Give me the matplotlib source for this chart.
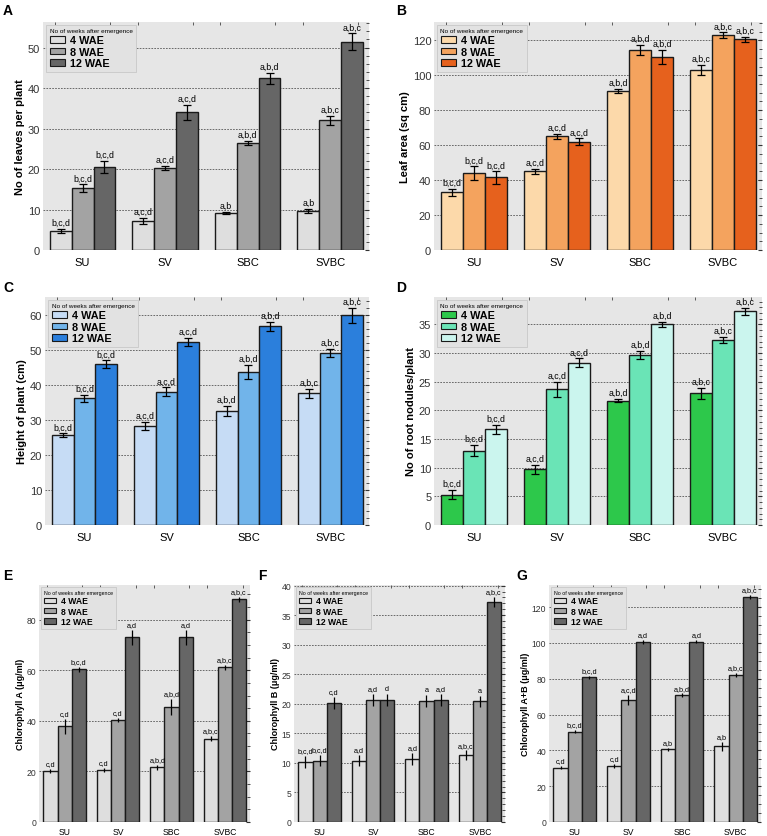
import numpy as np
import matplotlib
matplotlib.use("Agg")
import matplotlib.pyplot as plt
from matplotlib.ticker import MultipleLocator, AutoMinorLocator

plt.rcParams["font.family"] = ["Liberation Sans", "DejaVu Sans"]

treatments = ["SU", "SV", "SBC", "SVBC"]
weeks = ["4 WAE", "8 WAE", "12 WAE"]

# A - number of leaves per plant (rows = weeks, cols = treatments)
leaves_mean = [[4.7, 7.2, 9.1, 9.7],
               [15.3, 20.3, 26.4, 32.0],
               [20.5, 34.0, 42.4, 51.4]]
leaves_err = [[0.5, 0.7, 0.3, 0.5],
              [0.9, 0.5, 0.5, 1.2],
              [1.6, 1.8, 1.3, 2.1]]
leaves_sig = [["b,c,d", "a,c,d", "a,b", "a,b"],
              ["b,c,d", "a,c,d", "a,b,d", "a,b,c"],
              ["b,c,d", "a,c,d", "a,b,d", "a,b,c"]]

# B - leaf area
area_mean = [[33.0, 45.0, 91.0, 103.0],
             [44.0, 65.0, 114.5, 123.0],
             [41.5, 62.0, 110.5, 120.5]]
area_err = [[2.0, 1.5, 1.2, 3.0],
            [4.0, 1.5, 3.0, 1.5],
            [3.5, 2.0, 4.0, 1.7]]
area_sig = [["b,c,d", "a,c,d", "a,b,d", "a,b,c"]] * 3

# C - plant height
height_mean = [[25.6, 28.3, 32.6, 37.5],
               [36.2, 38.0, 43.6, 49.0],
               [45.9, 52.2, 56.6, 59.8]]
height_err = [[0.5, 1.2, 1.4, 1.3],
              [1.0, 1.3, 2.0, 1.2],
              [1.0, 1.1, 1.3, 2.2]]
height_sig = [["b,c,d", "a,c,d", "a,b,d", "a,b,c"]] * 3

# D - root nodules per plant
nodule_mean = [[5.3, 9.7, 21.7, 23.0],
               [13.0, 23.7, 29.7, 32.3],
               [16.7, 28.3, 35.0, 37.3]]
nodule_err = [[0.8, 0.8, 0.3, 1.0],
              [1.0, 1.3, 0.7, 0.5],
              [0.8, 0.8, 0.5, 0.6]]
nodule_sig = [["b,c,d", "a,c,d", "a,b,d", "a,b,c"]] * 3

# E - chlorophyll A
chla_mean = [[20.0, 20.5, 21.6, 33.0],
             [37.9, 40.5, 45.5, 61.2],
             [60.3, 73.0, 73.0, 88.1]]
chla_err = [[0.8, 0.8, 1.0, 1.0],
            [3.0, 0.8, 3.2, 1.0],
            [1.0, 3.1, 3.0, 1.0]]
chla_sig = [["c,d", "c,d", "a,b,d", "a,b,c"],
            ["c,d", "c,d", "a,b,d", "a,b,c"],
            ["b,c,d", "a,d", "a,d", "a,b,c"]]

# F - chlorophyll B
chlb_mean = [[10.2, 10.4, 10.6, 11.3],
             [10.4, 20.6, 20.5, 20.4],
             [20.2, 20.6, 20.7, 37.2]]
chlb_err = [[1.0, 1.0, 1.0, 0.8],
            [1.0, 1.0, 1.0, 0.9],
            [1.0, 1.0, 1.0, 0.8]]
chlb_sig = [["b,c,d", "a,d", "a,d", "a,b,c"],
            ["b,c,d", "a,d", "a", "a"],
            ["c,d", "d", "a,d", "a,b,c"]]

# G - chlorophyll A+B
chlab_mean = [[30.4, 31.4, 40.6, 42.3],
              [50.5, 68.0, 70.8, 82.0],
              [80.8, 100.6, 100.8, 125.6]]
chlab_err = [[1.0, 1.0, 1.0, 2.5],
             [1.0, 2.8, 1.0, 1.0],
             [1.0, 1.0, 1.0, 1.0]]
chlab_sig = [["c,d", "c,d", "a,b", "a,b"],
             ["b,c,d", "a,c,d", "a,b,d", "a,b,c"],
             ["b,c,d", "a,d", "a,d", "a,b,c"]]

grey_cols = ["#dedede", "#a3a3a3", "#666666"]
orange_cols = ["#fcd9aa", "#f4a35e", "#e6611d"]
blue_cols = ["#c6dcf5", "#71b4ea", "#2b7fdc"]
green_cols = ["#2dc84b", "#6ae4b6", "#cbf5ee"]


def draw_panel(ax, means, errs, sigs, colors, ylabel, ymax, ystep, small=False):
    x = np.arange(len(treatments))
    w = 0.265
    fs_tick = 6.2 if small else 8
    fs_sig = 5.2 if small else 6.3
    handles = []
    for i in range(3):
        pos = x + (i - 1) * w
        bars = ax.bar(pos, means[i], w, color=colors[i], edgecolor="#1a1a1a",
                      linewidth=1.0, zorder=3, label=weeks[i])
        handles.append(bars)
        ax.errorbar(pos, means[i], yerr=errs[i], fmt="none", ecolor="black",
                    elinewidth=0.9, capsize=0 if small else 3, capthick=0.9, zorder=4)
        for px, m, e, s in zip(pos, means[i], errs[i], sigs[i]):
            ax.text(px, m + e + ymax * 0.008, s, ha="center", va="bottom",
                    fontsize=fs_sig, zorder=5)
    ax.set_facecolor("#e6e6e6")
    ax.set_xlim(-0.48, 3.47)
    ax.set_ylim(0, ymax)
    ax.set_xticks(x)
    ax.set_xticklabels(treatments, fontsize=fs_tick)
    ax.yaxis.set_major_locator(MultipleLocator(ystep))
    ax.yaxis.set_minor_locator(AutoMinorLocator())
    ax.xaxis.set_minor_locator(MultipleLocator(1 / 3))
    ax.tick_params(axis="y", which="both", left=False, right=True, direction="in",
                   labelsize=fs_tick, colors="#333333", pad=2)
    ax.tick_params(axis="y", which="major", length=3)
    ax.tick_params(axis="y", which="minor", length=2)
    ax.tick_params(axis="x", which="major", bottom=False, top=False,
                   pad=0.3 if small else 1.5, labelsize=fs_tick)
    ax.tick_params(axis="x", which="minor", bottom=False, top=True, direction="in",
                   length=2.5, color="#444444")
    ax.grid(axis="y", which="major", linestyle=(0, (2, 1.5)), color="#555555",
            linewidth=0.6, zorder=1)
    for sp in ax.spines.values():
        sp.set_visible(False)
    ax.set_ylabel(ylabel, fontsize=6.5 if small else 8, fontweight="bold",
                  labelpad=1 if small else 2)
    leg = ax.legend(handles=handles, title="No of weeks after emergence",
                    loc="upper left", borderaxespad=0.25,
                    prop={"weight": "bold", "size": 6.2 if small else 7.8},
                    title_fontproperties={"size": 3.8 if small else 4.6},
                    handlelength=1.4, handleheight=0.55, handletextpad=0.5,
                    labelspacing=0.15, borderpad=0.35, fancybox=False,
                    framealpha=1.0, edgecolor="#c8c8c8", facecolor="#e2e2e2")
    leg._legend_box.align = "left"
    leg.get_frame().set_linewidth(0.6)
    for h in leg.legend_handles:
        h.set_linewidth(0.8)
    leg.set_zorder(6)


fig = plt.figure(figsize=(7.67, 8.37), dpi=100)

W, H = 767.0, 837.0


def add_axes(l, r, t, b):
    return fig.add_axes([l / W, 1 - b / H, (r - l) / W, (b - t) / H])


axA = add_axes(43, 369, 23, 251)
axB = add_axes(434, 762, 23, 251)
axC = add_axes(45, 369, 298, 526)
axD = add_axes(434, 762, 298, 526)
axE = add_axes(39, 250, 586, 823)
axF = add_axes(294, 505, 586, 823)
axG = add_axes(549, 761, 586, 823)

draw_panel(axA, leaves_mean, leaves_err, leaves_sig, grey_cols,
           "No of leaves per plant", 56.3, 10)
draw_panel(axB, area_mean, area_err, area_sig, orange_cols,
           "Leaf area (sq cm)", 130.5, 20)
draw_panel(axC, height_mean, height_err, height_sig, blue_cols,
           "Height of plant (cm)", 65, 10)
draw_panel(axD, nodule_mean, nodule_err, nodule_sig, green_cols,
           "No of root nodules/plant", 39.8, 5)
draw_panel(axE, chla_mean, chla_err, chla_sig, grey_cols,
           "Chlorophyll A (\u03bcg/ml)", 93.7, 20, small=True)
draw_panel(axF, chlb_mean, chlb_err, chlb_sig, grey_cols,
           "Chlorophyll B (\u03bcg/ml)", 40.1, 5, small=True)
draw_panel(axG, chlab_mean, chlab_err, chlab_sig, grey_cols,
           "Chlorophyll A+B (\u03bcg/ml)", 132.4, 20, small=True)

letters = [("A", 3, 15), ("B", 396, 15), ("C", 3, 292), ("D", 396, 292),
           ("E", 3, 580), ("F", 258, 580), ("G", 516, 580)]
for s, lx, ly in letters:
    fig.text(lx / W, 1 - ly / H, s, fontsize=10, fontweight="bold")

fig.savefig("out.png", dpi=100, facecolor="white")
